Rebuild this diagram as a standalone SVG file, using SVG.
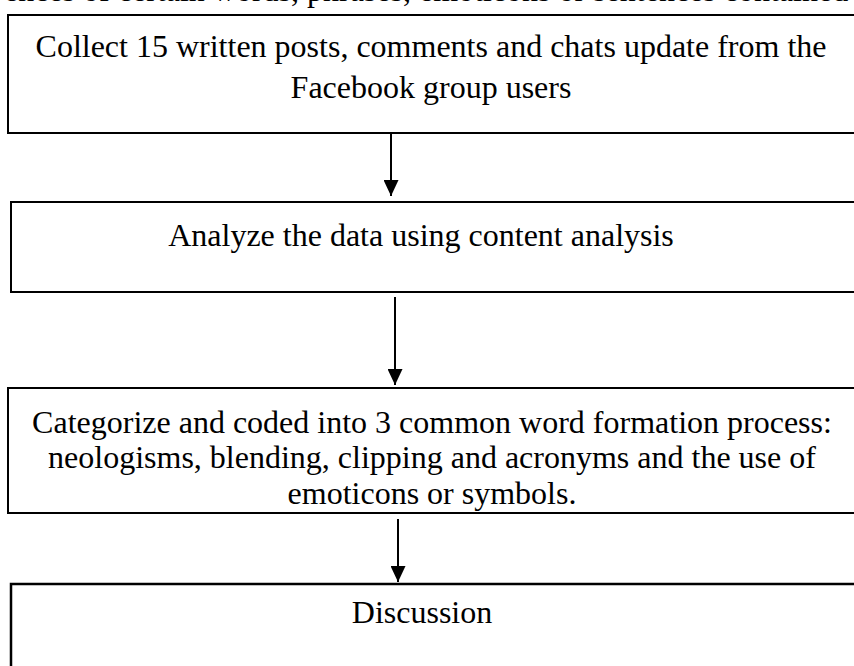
<svg xmlns="http://www.w3.org/2000/svg" width="854" height="666" viewBox="0 0 854 666">
  <defs>
    <marker id="arrow" markerWidth="16" markerHeight="15" refX="16" refY="7.5" orient="auto" markerUnits="userSpaceOnUse">
      <path d="M0,0 L16,7.5 L0,15 Z" fill="#000"/>
    </marker>
    <style>
      .box { fill: #fff; stroke: #000; stroke-width: 2; }
      .label { font-family: "Liberation Serif", "Times New Roman", serif; font-size: 32px; fill: #000; text-anchor: middle; }
      .edge { stroke: #000; stroke-width: 2; fill: none; marker-end: url(#arrow); }
    </style>
  </defs>
  <rect width="854" height="666" fill="#fff"/>

  <!-- running text above the chart, clipped by the page edge -->
  <text class="label" x="4" y="1" style="text-anchor:start">ences of certain words, phrases, emoticons or sentences contained</text>

  <g id="collect">
    <rect class="box" x="8" y="15" width="860" height="118"/>
    <text class="label" x="431" y="57">Collect 15 written posts, comments and chats update from the</text>
    <text class="label" x="431" y="98">Facebook group users</text>
  </g>

  <g id="analyze">
    <rect class="box" x="11" y="202" width="860" height="90"/>
    <text class="label" x="421" y="246">Analyze the data using content analysis</text>
  </g>

  <g id="categorize">
    <rect class="box" x="8" y="388" width="860" height="125"/>
    <text class="label" x="432" y="433">Categorize and coded into 3 common word formation process:</text>
    <text class="label" x="432" y="468">neologisms, blending, clipping and acronyms and the use of</text>
    <text class="label" x="432" y="504">emoticons or symbols.</text>
  </g>

  <g id="discussion">
    <rect class="box" x="11" y="584" width="860" height="100" style="stroke-width:2.5"/>
    <text class="label" x="422" y="623">Discussion</text>
  </g>

  <g id="connectors">
    <line class="edge" x1="391" y1="133" x2="391" y2="196"/>
    <line class="edge" x1="395" y1="297" x2="395" y2="385"/>
    <line class="edge" x1="398" y1="519" x2="398" y2="582"/>
  </g>
</svg>
